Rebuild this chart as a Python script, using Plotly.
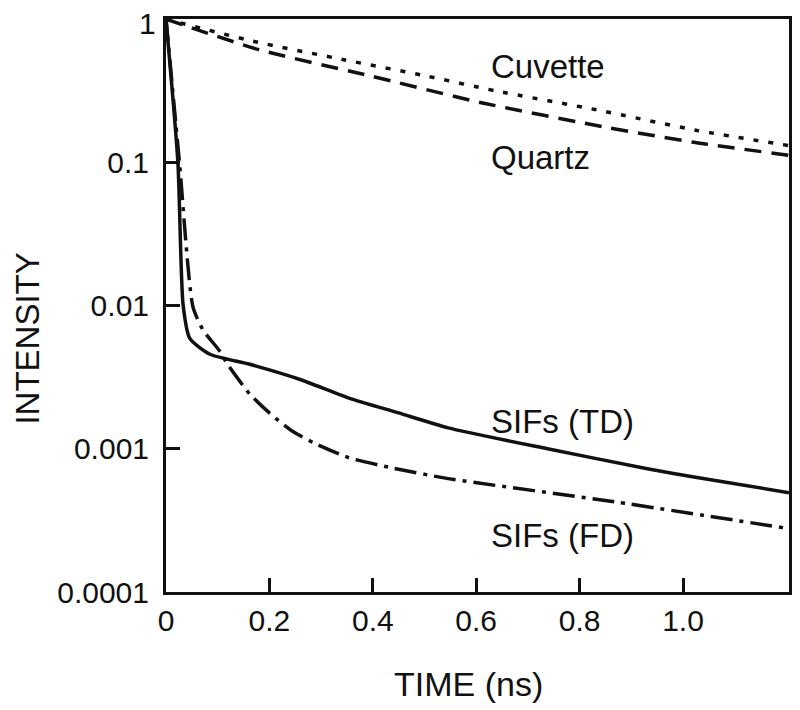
import plotly.graph_objects as go

# values (time in ns, intensity normalised)
cuvette_t = [0, 0.167, 0.346, 0.502, 0.637, 0.840, 1.027, 1.205]
cuvette_i = [1.0, 0.703, 0.519, 0.402, 0.316, 0.230, 0.167, 0.131]

quartz_t = [0, 0.181, 0.387, 0.610, 0.854, 1.021, 1.205]
quartz_i = [1.0, 0.61, 0.408, 0.261, 0.175, 0.138, 0.112]

td_t = [0, 0.023, 0.033, 0.046, 0.085, 0.162, 0.258, 0.354, 0.45, 0.546,
        0.738, 0.931, 1.027, 1.205]
td_i = [1.0, 0.1, 0.01017, 0.0059, 0.00457, 0.00389, 0.00306, 0.00226,
        0.00178, 0.0014, 0.001, 0.000726, 0.00063, 0.000494]

fd_t = [0, 0.026, 0.052, 0.071, 0.104, 0.119, 0.162, 0.2, 0.244, 0.29,
        0.354, 0.435, 0.546, 0.867, 1.205]
fd_i = [1.0, 0.1, 0.00984, 0.00681, 0.0048, 0.00389, 0.00241, 0.00178,
        0.00133, 0.00108, 0.000865, 0.000738, 0.000619, 0.000427, 0.000277]

x_ticks = [0, 0.2, 0.4, 0.6, 0.8, 1.0]
x_labels = ["0", "0.2", "0.4", "0.6", "0.8", "1.0"]
y_ticks = [1e-4, 1e-3, 1e-2, 0.1, 1]
y_labels = ["0.0001", "0.001", "0.01", "0.1", "1"]

FONT = "Liberation Sans"
INK = "#111111"

fig = go.Figure()
series = [
    (cuvette_t, cuvette_i, "5px,10px"),
    (quartz_t, quartz_i, "17px,10px"),
    (td_t, td_i, "solid"),
    (fd_t, fd_i, "22px,7px,4px,7px"),
]
for t, i, dash in series:
    fig.add_trace(
        go.Scatter(
            x=t, y=i,
            mode="lines",
            line=dict(color=INK, width=3.5, dash=dash, shape="spline", smoothing=0.6),
            showlegend=False,
            hoverinfo="skip",
        )
    )

labels = [("Cuvette", -0.333), ("Quartz", -0.965), ("SIFs (TD)", -2.806), ("SIFs (FD)", -3.604)]
for text, ly in labels:
    fig.add_annotation(x=0.625, y=ly, text=text, showarrow=False,
                       xanchor="left", yanchor="middle",
                       font=dict(family=FONT, size=33, color=INK))

# top tick label sits at the very edge of the figure, so it is drawn as a note
# just beside the corner instead of being hidden by plotly
fig.add_annotation(xref="paper", yref="paper", x=-0.0125, y=0.993, text=y_labels[-1],
                   showarrow=False, xanchor="right", yanchor="middle",
                   font=dict(family=FONT, size=30, color=INK))

fig.add_annotation(xref="paper", yref="paper", x=-0.2224, y=0.443, text="INTENSITY",
                   textangle=-90, showarrow=False, xanchor="center", yanchor="middle",
                   font=dict(family=FONT, size=33, color=INK))
fig.add_annotation(xref="paper", yref="paper", x=0.486, y=-0.161, text="TIME (ns)",
                   showarrow=False, xanchor="center", yanchor="middle",
                   font=dict(family=FONT, size=34, color=INK))

axis_common = dict(
    showline=True, linewidth=3, linecolor=INK, mirror=True,
    ticks="inside", ticklen=14, tickwidth=3, tickcolor=INK,
    showgrid=False, zeroline=False,
    tickfont=dict(family=FONT, size=30, color=INK),
)

# the page body adds an 8px margin, so the figure is shifted and trimmed to suit
fig.update_layout(
    width=792, height=702,
    margin=dict(l=158, r=9, t=8, b=118),
    paper_bgcolor="white", plot_bgcolor="white",
    xaxis=dict(range=[0, 1.205], tickmode="array", tickvals=x_ticks, ticktext=x_labels, **axis_common),
    yaxis=dict(type="log", range=[-4, 0.001], tickmode="array", tickvals=y_ticks[:-1],
               ticktext=y_labels[:-1], ticklabelstandoff=8, **axis_common),
)

fig.write_html("out.html")
